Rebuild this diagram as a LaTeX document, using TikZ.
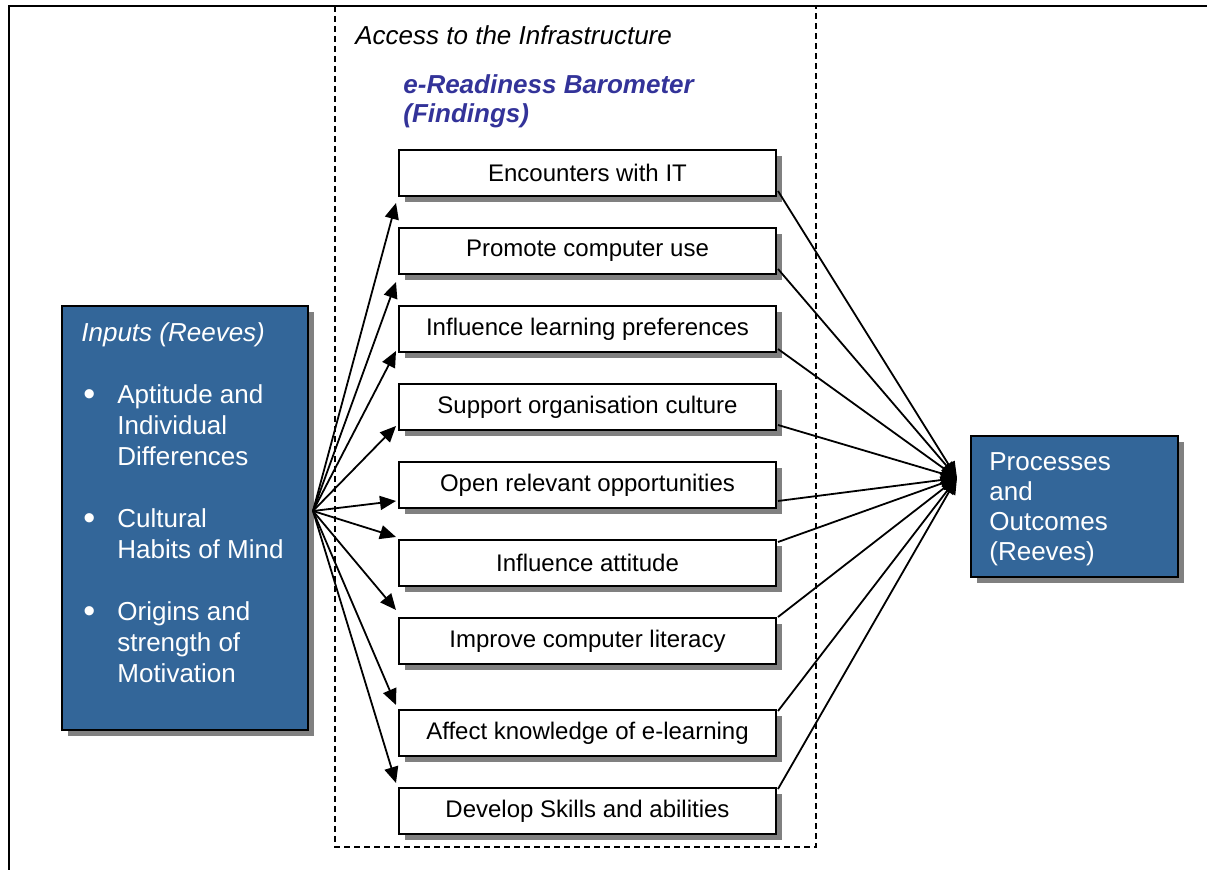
\documentclass[tikz,border=0pt]{standalone}
\usepackage{fontspec}
\setmainfont{Liberation Sans}
\usepackage{xcolor}
\usepackage{tikz}
\usetikzlibrary{positioning, calc, shadows, arrows.meta}
\definecolor{reevesblue}{RGB}{51,102,153}
\definecolor{baroblue}{RGB}{51,51,153}
\tikzstyle{finding} = [rectangle, minimum width=188.5pt, minimum height=23pt, text centered, draw=black, line width=1pt, fill=white, font=\fontsize{12}{14}\selectfont, drop shadow={shadow xshift=3pt, shadow yshift=-3pt, fill=black!50, opacity=1}]
\tikzstyle{reeves} = [rectangle, draw=black, line width=1pt, fill=reevesblue, text=white, drop shadow={shadow xshift=3pt, shadow yshift=-3pt, fill=black!50, opacity=1}]
\tikzstyle{arrow} = [line width=0.9pt, -{Triangle[length=8pt,width=7pt]}]
\newcommand{\inbullet}{\makebox[18pt][l]{\hspace{1pt}\raisebox{-1.2pt}{\fontsize{17}{17}\selectfont\textbullet}}}

\begin{document}
\begin{tikzpicture}[x=0.5pt, y=-0.5pt, node distance=39pt]
            \useasboundingbox (0,0) rectangle (1207,870);
            \draw [line width=1pt] (9,870) -- (9,6) -- (1207,6);
            \draw [dash pattern=on 3pt off 2pt, line width=0.75pt] (335,6) rectangle (816,847);

            \node (access) [anchor=west, inner sep=0pt, font=\fontsize{13}{15.5}\selectfont\itshape] at (355,35) {Access to the Infrastructure};
            \node (barometer) [anchor=west, inner sep=0pt, align=left, text=baroblue, font=\fontsize{13}{14.5}\selectfont\bfseries\itshape] at (403,101) {e-Readiness Barometer\\(Findings)};

            \node (f1) [finding] at (587.5,173) {Encounters with IT};
            \node (f2) [finding, below of=f1] {Promote computer use};
            \node (f3) [finding, below of=f2] {Influence learning preferences};
            \node (f4) [finding, below of=f3] {Support organisation culture};
            \node (f5) [finding, below of=f4] {Open relevant opportunities};
            \node (f6) [finding, below of=f5] {Influence attitude};
            \node (f7) [finding, below of=f6] {Improve computer literacy};
            \node (f8) [finding, below of=f7, yshift=-7pt] {Affect knowledge of e-learning};
            \node (f9) [finding, below of=f8] {Develop Skills and abilities};

            \node (inputs) [reeves, minimum width=123pt, minimum height=212pt] at (185,518) {};
            \node (inputstext) [anchor=north west, inner sep=0pt, align=left, text=white, font=\fontsize{13}{15.5}\selectfont] at ($(inputs.north west)+(20,17)$) {\textit{Inputs (Reeves)}\\[15.5pt]
                \inbullet Aptitude and\\
                \hspace*{18pt}Individual\\
                \hspace*{18pt}Differences\\[15.5pt]
                \inbullet Cultural\\
                \hspace*{18pt}Habits of Mind\\[15.5pt]
                \inbullet Origins and\\
                \hspace*{18pt}strength of\\
                \hspace*{18pt}Motivation};
            \node (outcomes) [reeves, minimum width=103.5pt, minimum height=70.5pt] at (1074.5,506.5) {};
            \node (outcomestext) [anchor=north west, inner sep=0pt, align=left, text=white, font=\fontsize{13}{15}\selectfont] at ($(outcomes.north west)+(19,17)$) {Processes\\and\\Outcomes\\(Reeves)};

            \coordinate (src) at (313,511);
            \coordinate (hub) at (957,478);

            \foreach \f/\a/\dy in {f1/south west/6, f2/south west/7, f3/south west/-2, f4/south west/-5, f5/south west/-8, f6/north west/-2, f7/north west/-7, f8/north west/-4, f9/north west/-4}
                \draw [arrow] (src) -- ($(\f.\a)+(-2,\dy)$);
            \foreach \f/\a/\dy in {f1/south east/-6, f2/south east/-6, f3/south east/-4, f4/south east/-6, f5/south east/-8, f6/north east/3, f7/north east/0, f8/north east/2, f9/north east/2}
                \draw [arrow] ($(\f.\a)+(1,\dy)$) -- (hub);
        \end{tikzpicture}
\end{document}
